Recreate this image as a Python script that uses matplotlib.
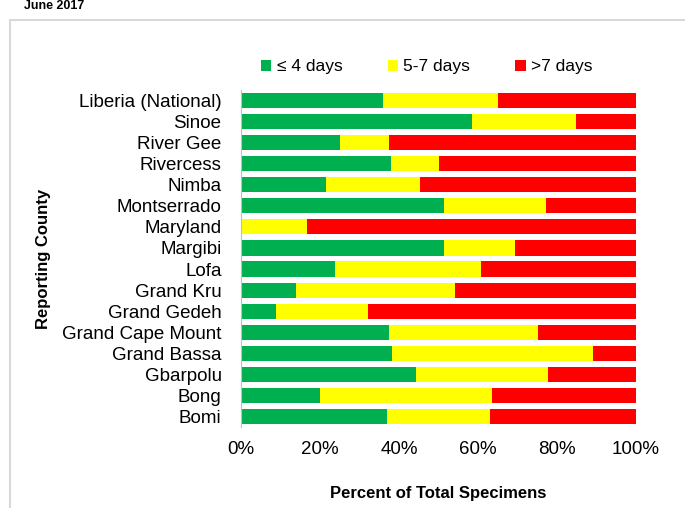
import matplotlib.pyplot as plt
import numpy as np
from matplotlib.ticker import PercentFormatter

counties = ["Liberia (National)", "Sinoe", "River Gee", "Rivercess", "Nimba", "Montserrado",
            "Maryland", "Margibi", "Lofa", "Grand Kru", "Grand Gedeh", "Grand Cape Mount",
            "Grand Bassa", "Gbarpolu", "Bong", "Bomi"]
le4 = [36, 58.5, 25, 38, 21.5, 51.4, 0, 51.4, 23.8, 13.9, 8.9, 37.5, 38.2, 44.3, 20, 37]
d5_7 = [29, 26.3, 12.5, 12, 23.8, 25.9, 16.7, 18, 37, 40.3, 23.3, 37.7, 50.9, 33.4, 43.5, 26]
gt7 = [100 - a - b for a, b in zip(le4, d5_7)]

FONT = "Liberation Sans"
fig = plt.figure(figsize=(6.85, 5.08), dpi=100)
fig.patches.append(plt.Rectangle((10/685, -0.1), 700/685, (498-10)/508 + 0.1, transform=fig.transFigure,
                                 fill=False, edgecolor="#d9d9d9", lw=1.5))
fig.text(0.035, 1.0, "June 2017", fontsize=9, fontweight="bold", va="top", family=FONT)

ax = fig.add_axes([241/685, 1 - 427/508, 395/685, (427-90)/508])
y = np.arange(len(counties))
h = 0.72
ax.barh(y, le4, height=h, color="#00b050", label="≤ 4 days")
ax.barh(y, d5_7, left=le4, height=h, color="#ffff00", label="5-7 days")
ax.barh(y, gt7, left=np.add(le4, d5_7), height=h, color="#ff0000", label=">7 days")
ax.set_yticks(y)
ax.set_yticklabels(counties, fontsize=13.5, family=FONT)
ax.set_ylim(len(counties) - 0.5, -0.5)
ax.set_xlim(0, 100)
ax.xaxis.set_major_formatter(PercentFormatter(decimals=0))
ax.set_xticks(range(0, 101, 20))
for t in ax.get_xticklabels():
    t.set_fontsize(13.5)
    t.set_family(FONT)
ax.tick_params(length=0, axis="y", pad=14)
ax.tick_params(length=0, axis="x", pad=10)
for s in ["top", "right", "bottom"]:
    ax.spines[s].set_visible(False)
ax.spines["left"].set_color("#bfbfbf")
ax.set_xlabel("Percent of Total Specimens", fontsize=12, fontweight="bold", family=FONT, labelpad=20)
ax.set_ylabel("Reporting County", fontsize=12, fontweight="bold", family=FONT, labelpad=8)
ax.legend(loc="lower center", bbox_to_anchor=(0.47, 1.0), ncol=3, frameon=False,
          prop={"family": [FONT, "DejaVu Sans"], "size": 12.5},
          handlelength=0.6, handleheight=0.6, handletextpad=0.3, columnspacing=2.6)
fig.savefig("out.png", dpi=100)
